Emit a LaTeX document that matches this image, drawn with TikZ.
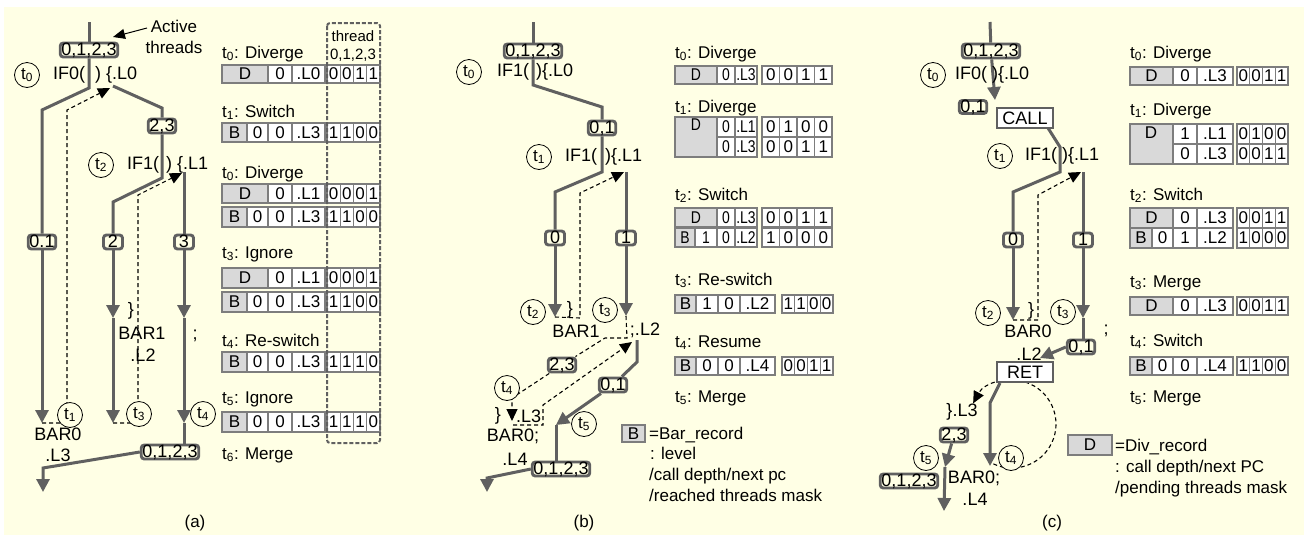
\documentclass[tikz,border=0pt]{standalone}
\usepackage{fontspec}
\setmainfont{Liberation Sans}
\newfontfamily\condf[FakeStretch=0.82]{Liberation Sans}
\usetikzlibrary{arrows.meta}
\definecolor{bgc}{RGB}{255,255,229}
\definecolor{lc}{RGB}{96,96,96}
\definecolor{cg}{RGB}{217,217,217}
\definecolor{cb}{RGB}{125,125,125}
\pgfdeclarelayer{back}
\pgfdeclarelayer{lines}
\pgfsetlayers{back,lines,main}
\tikzset{
  every node/.style={font=\fontsize{17}{20}\selectfont},
  ftxt/.style={inner sep=0pt,font=\fontsize{18}{21}\selectfont},
  lbl/.style={anchor=base west,inner sep=0pt},
  flow/.style={draw=lc,line width=3pt},
  farrow/.style={flow,-{Triangle[length=13pt,width=13pt]}},
  dline/.style={draw=black,line width=1.1pt,dash pattern=on 4pt off 3pt},
  darrow/.style={dline,-{Triangle[length=12pt,width=11pt]}},
  tbox/.style={draw=lc,line width=2.9pt,rounded corners=3pt,fill=bgc,inner xsep=1.2pt,inner ysep=0pt,minimum width=19pt,minimum height=14pt,text height=12.5pt,text depth=1.5pt,font=\fontsize{18}{21}\selectfont},
  rbox/.style={draw=lc,line width=1.2pt,fill=white,inner sep=0pt,minimum width=56pt,minimum height=20pt,font=\fontsize{18}{21}\selectfont},
  tcirc/.style={circle,draw=black,line width=0.8pt,fill=bgc,minimum size=25pt,inner sep=0pt},
  cellbd/.style={draw=cb,line width=1.3pt},
  celltxt/.style={inner sep=0pt},
  cond/.style={font=\condf\fontsize{17}{20}\selectfont},
}
\newcommand\celrow[5][]{%
  \foreach \xa/\xb/\tx/\fc [count=\k] in {#5}{%
    \draw[cellbd,fill=\fc] (\xa,#3) rectangle (\xb,#4);
    \node[celltxt,#1] (#2-\k) at ({(\xa+\xb)/2},{(#3+#4)/2}) {\tx};
  }}
\newcommand\maskrow[6]{%
  \foreach \dg [count=\k] in {#6}{%
    \draw[cellbd,fill=white] ({#4+(\k-1)*#5},#2) rectangle ({#4+\k*#5},#3);
    \node[celltxt] (#1-\k) at ({#4+(\k-0.5)*#5},{(#2+#3)/2}) {\dg};
  }}
\newcommand\ts[1]{t\textsubscript{#1}}
\begin{document}
\begin{tikzpicture}[x=1pt,y=-1pt]
\useasboundingbox (0,0) rectangle (1310,539);
\begin{pgfonlayer}{back}
\fill[white] (0,0) rectangle (1310,539);
\fill[bgc] (4,7) rectangle (1304,535);
\end{pgfonlayer}

% ================= PANEL (a) =================
\coordinate (a-top) at (89,22);
\node[tbox] (A0) at (89,50) {0,1,2,3};
\coordinate (a-b1) at (89,88);
\coordinate (a-b2) at (42,110);
\node[tbox] (A01) at (42,242) {0.1};
\coordinate (a-e1) at (42,423);
\coordinate (a-r0) at (113,86);
\coordinate (a-r1) at (162,108);
\node[tbox] (A23) at (162,126) {2,3};
\coordinate (a-r2) at (162,178);
\coordinate (a-r3) at (113,202);
\node[tbox] (A2) at (113,242) {2};
\coordinate (a-r4) at (113,318);
\coordinate (a-r5) at (113,423);
\coordinate (a-s0) at (184,172);
\node[tbox] (A3) at (184,242) {3};
\coordinate (a-s1) at (184,318);
\coordinate (a-s2) at (184,423);
\node[tbox] (Aall) at (170,452) {0,1,2,3};
\coordinate (a-o1) at (43,468);
\coordinate (a-o2) at (43,492);
\coordinate (a-d1) at (67,423);
\coordinate (a-d2) at (67,110);
\coordinate (a-d3) at (110,88);
\coordinate (a-d4) at (138,423);
\coordinate (a-d5) at (138,195);
\coordinate (a-d6) at (182,173);
\node[tcirc] (a-t0) at (27,75) {\ts{0}};
\node[tcirc] (a-t2) at (101,165) {\ts{2}};
\node[tcirc] (a-t1) at (70,415) {\ts{1}};
\node[tcirc] (a-t3) at (139,414) {\ts{3}};
\node[tcirc] (a-t4) at (203,414) {\ts{4}};
\node[ftxt,anchor=west] (a-if0) at (53,75) {IF0(\hspace{10pt}) \{.L0};
\node[ftxt,anchor=west] (a-if1) at (127,165) {IF1(\hspace{7pt}) \{.L1};
\node[ftxt] (a-br) at (131,311) {\}};
\node[ftxt] (a-bar1) at (142,333) {BAR1};
\node[ftxt] (a-l2) at (143,355) {.L2};
\node[ftxt] (a-semi) at (195,336) {;};
\node[ftxt] (a-bar0) at (58,434) {BAR0};
\node[ftxt] (a-l3) at (58,455) {.L3};
\node[inner sep=0pt] (a-cap) at (195,523) {(a)};
\node[inner sep=0pt,align=center,font=\fontsize{17}{21}\selectfont] (a-act) at (174,37) {Active\\threads};
\coordinate (a-ac0) at (147,28);
\coordinate (a-ac1) at (113,37);
\begin{pgfonlayer}{lines}
\draw[flow] (a-top) -- (A0);
\draw[flow] (A0) -- (a-b1) -- (a-b2) -- (A01);
\draw[farrow] (A01) -- (a-e1);
\draw[flow] (a-r0) -- (a-r1) -- (A23);
\draw[flow] (A23) -- (a-r2) -- (a-r3) -- (A2);
\draw[farrow] (A2) -- (a-r4);
\draw[farrow] (a-r4) -- (a-r5);
\draw[flow] (a-s0) -- (A3);
\draw[farrow] (A3) -- (a-s1);
\draw[farrow] (a-s1) -- (a-s2);
\draw[flow] (a-s2) -- (a-s2 |- Aall.north);
\draw[farrow] (Aall.west) -- (a-o1) -- (a-o2);
\draw[darrow] (a-e1) -- (a-d1) -- (a-d2) -- (a-d3);
\draw[darrow] (a-r5) -- (a-d4) -- (a-d5) -- (a-d6);
\draw[black,line width=1pt,-{Triangle[length=12pt,width=10pt]}] (a-ac0) -- (a-ac1);
\end{pgfonlayer}
% table (a)
\node[lbl] (a-h1) at (222,58) {\ts{0}: Diverge};
\celrow{a1}{65}{83}{222/268/D/cg, 268/292/0/white, 292/325/.L0/white}
\maskrow{a1m}{65}{83}{327}{13.25}{0,0,1,1}
\node[lbl] (a-h2) at (222,117) {\ts{1}: Switch};
\celrow{a2}{123}{142}{222/247/B/cg, 247/268/0/white, 268/292/0/white, 292/325/.L3/white}
\maskrow{a2m}{123}{142}{327}{13.25}{1,1,0,0}
\node[lbl] (a-h3) at (222,178) {\ts{0}: Diverge};
\celrow{a3}{184}{203}{222/268/D/cg, 268/292/0/white, 292/325/.L1/white}
\maskrow{a3m}{184}{203}{327}{13.25}{0,0,0,1}
\celrow{a4}{207}{227}{222/247/B/cg, 247/268/0/white, 268/292/0/white, 292/325/.L3/white}
\maskrow{a4m}{207}{227}{327}{13.25}{1,1,0,0}
\node[lbl] (a-h4) at (222,258) {\ts{3}: Ignore};
\celrow{a5}{268}{288}{222/268/D/cg, 268/292/0/white, 292/325/.L1/white}
\maskrow{a5m}{268}{288}{327}{13.25}{0,0,0,1}
\celrow{a6}{292}{312}{222/247/B/cg, 247/268/0/white, 268/292/0/white, 292/325/.L3/white}
\maskrow{a6m}{292}{312}{327}{13.25}{1,1,0,0}
\node[lbl] (a-h5) at (222,346) {\ts{4}: Re-switch};
\celrow{a7}{352}{372}{222/247/B/cg, 247/268/0/white, 268/292/0/white, 292/325/.L3/white}
\maskrow{a7m}{352}{372}{327}{13.25}{1,1,1,0}
\node[lbl] (a-h6) at (222,403) {\ts{5}: Ignore};
\celrow{a8}{412}{432}{222/247/B/cg, 247/268/0/white, 268/292/0/white, 292/325/.L3/white}
\maskrow{a8m}{412}{432}{327}{13.25}{1,1,1,0}
\node[lbl] (a-h7) at (222,459) {\ts{6}: Merge};
\draw[draw=lc,line width=2pt,dash pattern=on 4pt off 2pt,rounded corners=3pt] (327,23) rectangle (380,443);
\node[inner sep=0pt,font=\fontsize{15}{17}\selectfont] (a-thr) at (353,36) {thread};
\node[inner sep=0pt,font=\fontsize{15}{17}\selectfont] (a-thn) at (353,55) {0,1,2,3};

% ================= PANEL (b) =================
\coordinate (b-top) at (533,22);
\node[tbox] (B0) at (533,51) {0,1,2,3};
\coordinate (b-1) at (533,85);
\coordinate (b-2) at (602,107);
\node[tbox] (B01) at (602,128) {0,1};
\coordinate (b-3) at (602,172);
\coordinate (b-4) at (555,192);
\node[tbox] (Bz) at (555,238) {0};
\coordinate (b-5) at (555,317);
\coordinate (b-6) at (626,172);
\node[tbox] (Bo) at (626,238) {1};
\coordinate (b-7) at (626,316);
\coordinate (b-d1) at (580,318);
\coordinate (b-d2) at (580,193);
\coordinate (b-d3) at (624,172);
\coordinate (b-d4) at (627,338);
\coordinate (b-d5) at (605,338);
\node[tbox] (B23) at (562,365) {2,3};
\coordinate (b-d6) at (512,398);
\coordinate (b-d7) at (512,421);
\coordinate (b-d11) at (513,425);
\coordinate (b-d8) at (543,425);
\coordinate (b-d9) at (543,405);
\coordinate (b-d10) at (632,342);
\coordinate (b-s0) at (637,340);
\coordinate (b-s1) at (637,362);
\node[tbox] (B01b) at (613,385) {0,1};
\coordinate (b-s2) at (556,425);
\node[tbox] (Ball) at (561,469) {0,1,2,3};
\coordinate (b-o1) at (487,478);
\coordinate (b-o2) at (487,492);
\node[tcirc] (b-t0) at (469,72) {\ts{0}};
\node[tcirc] (b-t1) at (539,157) {\ts{1}};
\node[tcirc] (b-t2) at (533,312) {\ts{2}};
\node[tcirc] (b-t3) at (605,310) {\ts{3}};
\node[tcirc] (b-t4) at (507,388) {\ts{4}};
\node[tcirc] (b-t5) at (584,424) {\ts{5}};
\node[ftxt,anchor=west] (b-if0) at (497,72) {IF1(\hspace{7pt})\{.L0};
\node[ftxt,anchor=west] (b-if1) at (565,157) {IF1(\hspace{8pt})\{.L1};
\node[ftxt] (b-br1) at (570,310) {\}};
\node[ftxt] (b-bar1) at (576,331) {BAR1};
\node[ftxt] (b-l2) at (645,330) {;.L2};
\node[ftxt] (b-br2) at (498,416) {\}};
\node[ftxt,anchor=west] (b-l3) at (516,416) {.L3};
\node[ftxt] (b-bar0) at (513,436) {BAR0;};
\node[ftxt] (b-l4) at (515,459) {.L4};
\node[inner sep=0pt] (b-cap) at (584,523) {(b)};
\begin{pgfonlayer}{lines}
\draw[flow] (b-top) -- (B0);
\draw[flow] (B0) -- (b-1) -- (b-2) -- (B01);
\draw[flow] (B01) -- (b-3) -- (b-4) -- (Bz);
\draw[farrow] (Bz) -- (b-5);
\draw[flow] (b-6) -- (Bo);
\draw[farrow] (Bo) -- (b-7);
\draw[darrow] (b-5) -- (b-d1) -- (b-d2) -- (b-d3);
\draw[dline] (b-7) -- (b-d4) -- (b-d5) -- (B23);
\draw[darrow] (B23) -- (b-d6) -- (b-d7);
\draw[darrow] (b-d11) -- (b-d8) -- (b-d9) -- (b-d10);
\draw[flow] (b-s0) -- (b-s1) -- (B01b);
\draw[farrow] (B01b) -- (b-s2);
\draw[flow] (b-s2) -- (b-s2 |- Ball.north);
\draw[farrow] (Ball.west) -- (b-o1) -- (b-o2);
\end{pgfonlayer}
% table (b)
\node[lbl] (b-h1) at (675,58) {\ts{0}: Diverge};
\celrow[cond]{b1}{66}{84}{675/717/D/cg, 717/735/0/white, 735/757/.L3/white}
\maskrow{b1m}{66}{84}{762}{17.5}{0,0,1,1}
\node[lbl] (b-h2) at (675,112) {\ts{1}: Diverge};
\draw[cellbd,fill=cg] (675,117) rectangle (717,157);
\node[celltxt,cond] (b-D2) at (696,125) {D};
\celrow[cond]{b2}{117}{137}{717/735/0/white, 735/757/.L1/white}
\maskrow{b2m}{117}{137}{762}{17.5}{0,1,0,0}
\celrow[cond]{b3}{137}{157}{717/735/0/white, 735/757/.L3/white}
\maskrow{b3m}{137}{157}{762}{17.5}{0,0,1,1}
\node[lbl] (b-h3) at (675,200) {\ts{2}: Switch};
\celrow[cond]{b4}{208}{227}{675/717/D/cg, 717/735/0/white, 735/757/.L3/white}
\maskrow{b4m}{208}{227}{762}{17.5}{0,0,1,1}
\celrow[cond]{b5}{228.5}{247}{675/695/B/cg, 695/717/1/white, 717/735/0/white, 735/757/.L2/white}
\maskrow{b5m}{228.5}{247}{762}{17.5}{1,0,0,0}
\node[lbl] (b-h4) at (675,285) {\ts{3}: Re-switch};
\celrow{b6}{295}{313}{675/696/B/cg, 696/718/1/white, 718/740/0/white, 740/775/.L2/white}
\maskrow{b6m}{295}{313}{782}{12.75}{1,1,0,0}
\node[lbl] (b-h5) at (675,347) {\ts{4}: Resume};
\celrow{b7}{357}{375}{675/696/B/cg, 696/718/0/white, 718/740/0/white, 740/775/.L4/white}
\maskrow{b7m}{357}{375}{782}{12.75}{0,0,1,1}
\node[lbl] (b-h6) at (675,402) {\ts{5}: Merge};
% legend (b)
\node[draw=cb,line width=1.3pt,fill=cg,inner sep=0pt,minimum width=23pt,minimum height=17pt] (b-leg) at (633.5,433.5) {B};
\node[lbl] (b-lg1) at (649,439) {=Bar\_record};
\node[lbl] (b-lg2) at (650,459) {: level};
\node[lbl] (b-lg3) at (649,480) {/call depth/next pc};
\node[lbl] (b-lg4) at (649,501) {/reached threads mask};

% ================= PANEL (c) =================
\coordinate (c-top) at (990,22);
\node[tbox] (C0) at (991,51) {0,1,2,3};
\coordinate (c-a) at (995,100);
\node[tbox,minimum height=13pt,text height=12pt,text depth=1pt] (C01) at (973,107) {0,1};
\node[rbox] (Ccall) at (1025,118) {CALL};
\coordinate (c-0) at (1048,128);
\coordinate (c-1) at (1060,147);
\coordinate (c-2) at (1060,172);
\coordinate (c-3) at (1013,192);
\node[tbox] (Cz) at (1013,240) {0};
\coordinate (c-4) at (1013,320);
\coordinate (c-5) at (1083,172);
\node[tbox] (Co) at (1083,240) {1};
\coordinate (c-6) at (1083,318);
\node[tbox] (C01b) at (1081,347) {0,1};
\coordinate (c-7) at (1040,358);
\node[rbox] (Cret) at (1025,372) {RET};
\coordinate (c-8) at (1000,383);
\coordinate (c-9) at (990,403);
\coordinate (c-10) at (990,466);
\coordinate (c-d1) at (1038,320);
\coordinate (c-d2) at (1038,195);
\coordinate (c-d3) at (1081,172);
\coordinate (c-arc) at (993.4,463.9);
\node[tbox] (C23) at (954,435) {2,3};
\coordinate (c-11) at (945,467);
\node[tbox] (Call) at (909,481) {0,1,2,3};
\coordinate (c-12) at (944,511);
\node[tcirc] (c-t0) at (933,75) {\ts{0}};
\node[tcirc] (c-t1) at (1000,156) {\ts{1}};
\node[tcirc] (c-t2) at (988,313) {\ts{2}};
\node[tcirc] (c-t3) at (1063,312) {\ts{3}};
\node[tcirc] (c-t4) at (1011,458) {\ts{4}};
\node[tcirc] (c-t5) at (926,458) {\ts{5}};
\node[ftxt,anchor=west] (c-if0) at (955,75) {IF0( )\{.L0};
\node[ftxt,anchor=west] (c-if1) at (1025,156) {IF1( )\{.L1};
\node[ftxt] (c-br) at (1031,311) {\}};
\node[ftxt] (c-bar0a) at (1028,331) {BAR0};
\node[ftxt] (c-l2) at (1029,354) {.L2};
\node[ftxt] (c-semi) at (1106,331) {;};
\node[ftxt] (c-l3) at (962,412) {\}.L3};
\node[ftxt] (c-bar0b) at (974,478) {BAR0;};
\node[ftxt] (c-l4) at (975,499) {.L4};
\node[inner sep=0pt] (c-cap) at (1052,523) {(c)};
\begin{pgfonlayer}{lines}
\draw[flow] (c-top) -- (C0);
\draw[farrow] (C0) -- (c-a);
\draw[flow] (c-0) -- (c-1) -- (c-2) -- (c-3) -- (Cz);
\draw[farrow] (Cz) -- (c-4);
\draw[flow] (c-5) -- (Co);
\draw[farrow] (Co) -- (c-6);
\draw[flow] (c-6) -- (c-6 |- C01b.north);
\draw[farrow] (C01b.west) -- (c-7);
\draw[farrow] (c-8) -- (c-9) -- (c-10);
\draw[darrow] (c-4) -- (c-d1) -- (c-d2) -- (c-d3);
\draw[darrow] (c-arc) arc[start angle=115,end angle=-152,radius=44];
\draw[farrow] (C23) -- (c-11);
\draw[farrow] (c-11) -- (c-12);
\end{pgfonlayer}
% table (c)
\node[lbl] (c-h1) at (1130,58) {\ts{0}: Diverge};
\celrow{c1}{67}{85}{1130/1173/D/cg, 1173/1197/0/white, 1197/1233/.L3/white}
\maskrow{c1m}{67}{85}{1237}{12.75}{0,0,1,1}
\node[lbl] (c-h2) at (1130,115) {\ts{1}: Diverge};
\draw[cellbd,fill=cg] (1130,124) rectangle (1173,164);
\node[celltxt] (c-D2) at (1151,133) {D};
\celrow{c2}{124}{144}{1173/1197/1/white, 1197/1233/.L1/white}
\maskrow{c2m}{124}{144}{1237}{12.75}{0,1,0,0}
\celrow{c3}{144}{164}{1173/1197/0/white, 1197/1233/.L3/white}
\maskrow{c3m}{144}{164}{1237}{12.75}{0,0,1,1}
\node[lbl] (c-h3) at (1130,200) {\ts{2}: Switch};
\celrow{c4}{208}{228}{1130/1173/D/cg, 1173/1197/0/white, 1197/1233/.L3/white}
\maskrow{c4m}{208}{228}{1237}{12.75}{0,0,1,1}
\celrow{c5}{228}{248}{1130/1152/B/cg, 1152/1173/0/white, 1173/1197/1/white, 1197/1233/.L2/white}
\maskrow{c5m}{228}{248}{1237}{12.75}{1,0,0,0}
\node[lbl] (c-h4) at (1130,287) {\ts{3}: Merge};
\celrow{c6}{297}{315}{1130/1173/D/cg, 1173/1197/0/white, 1197/1233/.L3/white}
\maskrow{c6m}{297}{315}{1237}{12.75}{0,0,1,1}
\node[lbl] (c-h5) at (1130,346) {\ts{4}: Switch};
\celrow{c7}{357}{375}{1130/1152/B/cg, 1152/1173/0/white, 1173/1197/0/white, 1197/1233/.L4/white}
\maskrow{c7m}{357}{375}{1237}{12.75}{1,1,0,0}
\node[lbl] (c-h6) at (1130,402) {\ts{5}: Merge};
% legend (c)
\node[draw=cb,line width=1.3pt,fill=cg,inner sep=0pt,minimum width=44pt,minimum height=20pt] (c-leg) at (1090,445) {D};
\node[lbl] (c-lg1) at (1115,451) {=Div\_record};
\node[lbl] (c-lg2) at (1115,472) {: call depth/next PC};
\node[lbl] (c-lg3) at (1115,493) {/pending threads mask};
\end{tikzpicture}
\end{document}
